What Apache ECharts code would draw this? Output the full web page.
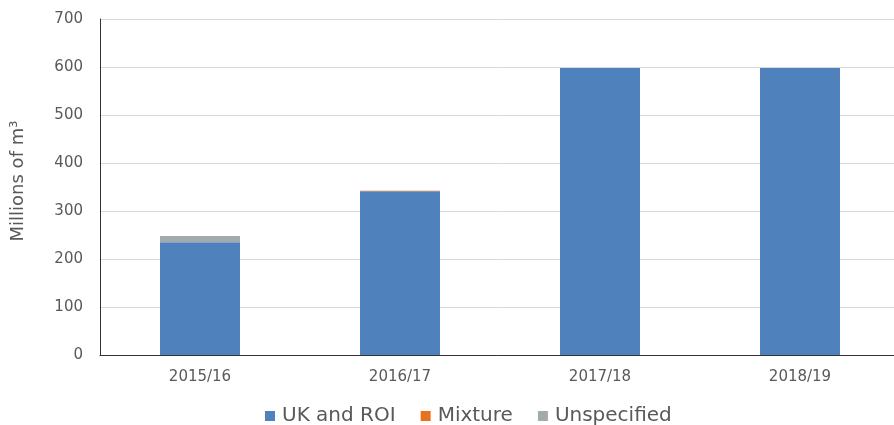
<!DOCTYPE html>
<html>
<head>
<meta charset="utf-8">
<script src="https://cdn.jsdelivr.net/npm/echarts@6/dist/echarts.min.js"></script>
<style>
  html, body { margin: 0; padding: 0; background: #fff; }
  #chart { width: 894px; height: 425px; }
</style>
</head>
<body>
<div id="chart"></div>
<script>
const categories = ['2015/16', '2016/17', '2017/18', '2018/19']
const ukRoi = [235, 341, 598, 598]
const mixture = [0, 1, 0, 0]
const unspecified = [13, 0, 0, 0]
const colors = ['#4F81BD', '#E8731C', '#A2AAAD']

const myChart = echarts.init(document.querySelector('#chart'))
const font = "'DejaVu Sans', Verdana, sans-serif"

myChart.setOption({
  animation: false,
  textStyle: { fontFamily: font },
  grid: { left: 100, right: -6, top: 19, bottom: 70, outerBoundsMode: 'none' },
  legend: {
    left: 260,
    top: 401,
    itemWidth: 10,
    itemHeight: 10,
    itemGap: 25,
    icon: 'rect',
    textStyle: { fontSize: 20, color: '#595959', fontFamily: font, padding: [0, 0, 0, 2] },
    data: ['UK and ROI', 'Mixture', 'Unspecified']
  },
  xAxis: {
    type: 'category',
    data: categories,
    axisLine: { lineStyle: { color: '#333', width: 1 } },
    axisTick: { show: false },
    axisLabel: { color: '#595959', fontSize: 15, margin: 15, fontFamily: font }
  },
  yAxis: {
    type: 'value',
    min: 0,
    max: 700,
    interval: 100,
    name: 'Millions of m³',
    nameLocation: 'middle',
    nameGap: 73,
    nameTextStyle: { fontSize: 18, color: '#595959', fontFamily: font, padding: [0, 0, 0, 12] },
    axisLine: { show: true, lineStyle: { color: '#333' } },
    axisTick: { show: false },
    axisLabel: { color: '#595959', fontSize: 15, margin: 17, fontFamily: font },
    splitLine: { lineStyle: { color: '#D9D9D9' } }
  },
  series: [
    { name: 'UK and ROI', type: 'bar', stack: 'a', barWidth: 80, data: ukRoi, itemStyle: { color: colors[0] } },
    { name: 'Mixture', type: 'bar', stack: 'a', data: mixture, itemStyle: { color: colors[1] } },
    { name: 'Unspecified', type: 'bar', stack: 'a', data: unspecified, itemStyle: { color: colors[2] } }
  ]
})
</script>
</body>
</html>
